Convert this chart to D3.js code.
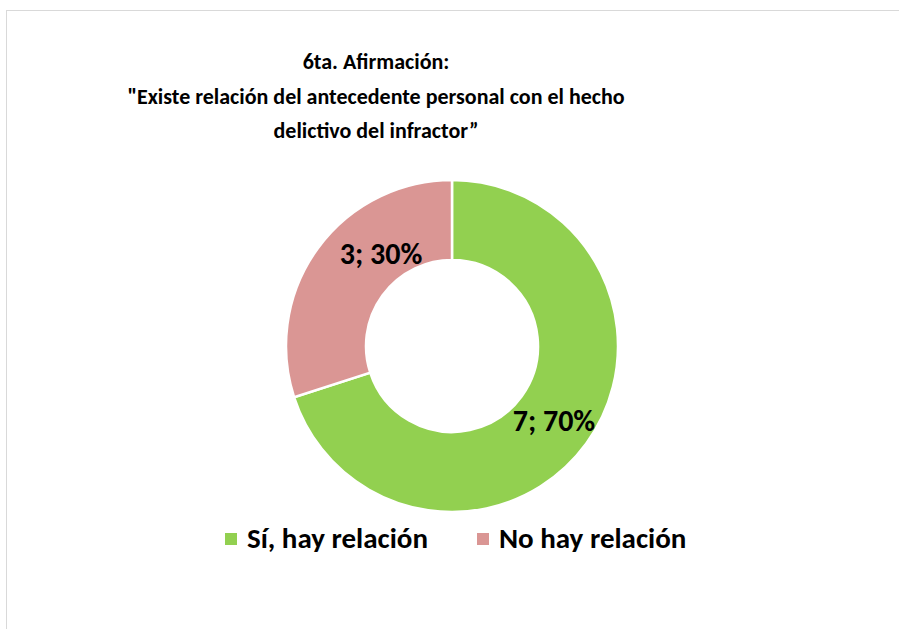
<!DOCTYPE html>
<html lang="es">
<head>
    <meta charset="UTF-8">
    <title>6ta. Afirmación</title>
    <script src="https://d3js.org/d3.v7.min.js"></script>
    <style>
        body { margin: 0; background: #fff; }
        text { font-family: Calibri, Carlito, Lato, sans-serif; font-weight: bold; fill: #000; }
    </style>
</head>
<body>
    <script>
        // data
        const categories = ["Sí, hay relación", "No hay relación"];
        const values = [7, 3];
        const colors = ["#92D050", "#DA9694"];
        const titleLines = [
            "6ta. Afirmación:",
            "\"Existe relación del antecedente personal con el hecho",
            "delictivo del infractor”"
        ];

        const width = 899, height = 629;
        const cx = 452, cy = 346;
        const outerR = 166, innerR = 86;
        // Excel nudged the small slice's label toward the top
        const labelNudge = [[0, 0], [31, -18]];

        const svg = d3.select("body")
            .append("svg")
            .attr("width", width)
            .attr("height", height);

        // chart border
        svg.append("rect")
            .attr("x", 6.5).attr("y", 10.5)
            .attr("width", width).attr("height", height)
            .attr("fill", "none")
            .attr("stroke", "#d9d9d9")
            .attr("stroke-width", 1);

        // title
        svg.append("g").selectAll("text")
            .data(titleLines)
            .join("text")
            .attr("x", 376)
            .attr("y", (d, i) => 69 + i * 34.5)
            .attr("text-anchor", "middle")
            .style("font-size", "22px")
            .text(d => d);

        const total = d3.sum(values);
        const pie = d3.pie().sort(null).value(d => d)(values);
        const arc = d3.arc().innerRadius(innerR).outerRadius(outerR);

        const g = svg.append("g").attr("transform", `translate(${cx},${cy})`);

        g.selectAll("path")
            .data(pie)
            .join("path")
            .attr("d", arc)
            .attr("fill", (d, i) => colors[i])
            .attr("stroke", "#fff")
            .attr("stroke-width", 2.5);

        // data labels
        g.selectAll("text.lbl")
            .data(pie)
            .join("text")
            .attr("class", "lbl")
            .attr("transform", (d, i) => {
                const [x, y] = arc.centroid(d);
                return `translate(${x + labelNudge[i][0]},${y + labelNudge[i][1]})`;
            })
            .attr("text-anchor", "middle")
            .attr("dy", "0.35em")
            .style("font-size", "30px")
            .text(d => `${d.data}; ${Math.round(d.data / total * 100)}%`);

        // legend
        const legendX = [225, 477];
        const leg = svg.append("g").selectAll("g")
            .data(categories)
            .join("g")
            .attr("transform", (d, i) => `translate(${legendX[i]},533)`);
        leg.append("rect")
            .attr("width", 12).attr("height", 12)
            .attr("fill", (d, i) => colors[i]);
        leg.append("text")
            .attr("x", 22).attr("y", 15)
            .style("font-size", "29px")
            .text(d => d);
    </script>
</body>
</html>
